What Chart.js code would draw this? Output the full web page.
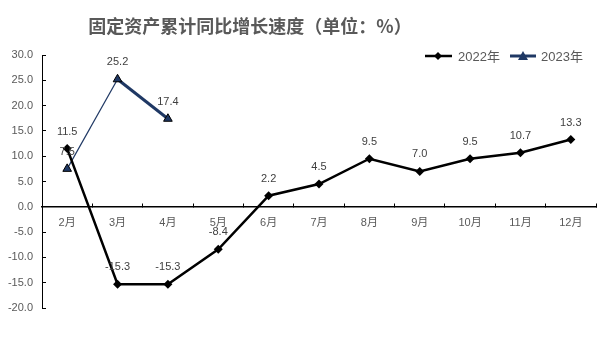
<!DOCTYPE html>
<html><head><meta charset="utf-8">
<script src="https://cdn.jsdelivr.net/npm/chart.js@4"></script>
<style>html,body{margin:0;padding:0;background:#fff}#w{width:611px;height:354px;position:relative}</style>
</head><body><div id="w"><canvas id="c"></canvas></div>
<script>
const categories = ['2月','3月','4月','5月','6月','7月','8月','9月','10月','11月','12月'];
const values2022 = [11.5,-15.3,-15.3,-8.4,2.2,4.5,9.5,7.0,9.5,10.7,13.3];
const values2023 = [7.5,25.2,17.4,null,null,null,null,null,null,null,null];
const seriesNames = ['2022年','2023年'];
const yMin = -20, yMax = 30, yStep = 5;
const titleText = '固定资产累计同比增长速度（单位：%）';

const navy = '#1F3864';
const labelFont = '11px "Liberation Sans", "Noto Sans CJK SC", sans-serif';

const overlay = {
  id: 'overlay',
  afterDatasetsDraw(chart) {
    const ctx = chart.ctx;
    ctx.save();
    // data labels
    ctx.font = labelFont;
    ctx.fillStyle = '#404040';
    ctx.textAlign = 'center';
    ctx.textBaseline = 'middle';
    chart.data.datasets.forEach((ds, i) => {
      const meta = chart.getDatasetMeta(i);
      meta.data.forEach((el, j) => {
        const v = ds.data[j];
        if (v === null || v === undefined) return;
        ctx.fillText(v.toFixed(1), el.x, el.y - 17);
      });
    });
    // title
    ctx.font = 'bold 18px "Noto Sans CJK SC", sans-serif';
    ctx.fillStyle = '#595959';
    ctx.fillText(titleText, 250, 26);
    // legend
    const ly = 56;
    ctx.font = '13px "Liberation Sans", "Noto Sans CJK SC", sans-serif';
    ctx.textAlign = 'left';
    // 2022
    ctx.strokeStyle = '#000'; ctx.lineWidth = 2.5;
    ctx.beginPath(); ctx.moveTo(425, ly); ctx.lineTo(452, ly); ctx.stroke();
    ctx.fillStyle = '#000';
    ctx.beginPath(); ctx.moveTo(438, ly-4); ctx.lineTo(442, ly); ctx.lineTo(438, ly+4); ctx.lineTo(434, ly); ctx.closePath(); ctx.fill();
    ctx.fillStyle = '#595959';
    ctx.fillText(seriesNames[0], 458, ly + 1);
    // 2023
    ctx.strokeStyle = navy; ctx.lineWidth = 3;
    ctx.beginPath(); ctx.moveTo(510, ly); ctx.lineTo(536, ly); ctx.stroke();
    ctx.fillStyle = navy;
    ctx.beginPath(); ctx.moveTo(523, ly-5); ctx.lineTo(528, ly+4); ctx.lineTo(518, ly+4); ctx.closePath(); ctx.fill();
    ctx.fillStyle = '#595959';
    ctx.fillText(seriesNames[1], 541, ly + 1);
    ctx.restore();
  }
};

new Chart(document.getElementById('c'), {
  type: 'line',
  data: {
    labels: categories,
    datasets: [
      {
        label: seriesNames[0],
        data: values2022,
        borderColor: '#000',
        backgroundColor: '#000',
        borderWidth: 2.5,
        pointStyle: 'rectRot',
        pointRadius: 4.5,
        pointBorderWidth: 0,
        tension: 0
      },
      {
        label: seriesNames[1],
        data: values2023,
        borderColor: navy,
        backgroundColor: navy,
        pointBorderColor: '#000',
        pointBorderWidth: 1,
        pointStyle: 'triangle',
        pointRadius: 5,
        tension: 0,
        segment: {
          borderWidth: c => c.p0DataIndex === 0 ? 1.2 : 3
        }
      }
    ]
  },
  options: {
    responsive: true,
    maintainAspectRatio: false,
    animation: false,
    devicePixelRatio: 1,
    layout: { padding: { left: 0, top: 55, right: 15, bottom: 46 } },
    plugins: { legend: { display: false }, title: { display: false }, tooltip: { enabled: false } },
    scales: {
      x: {
        type: 'category',
        position: { y: 0 },
        offset: true,
        grid: { drawOnChartArea: false, drawTicks: true, tickLength: -4, color: '#000', offset: true, lineWidth: 1 },
        border: { color: '#000', width: 1.5 },
        ticks: { padding: 14, color: '#595959', font: { size: 11, family: '"Liberation Sans", "Noto Sans CJK SC", sans-serif' }, maxRotation: 0, autoSkip: false }
      },
      y: {
        min: yMin, max: yMax,
        grid: { drawOnChartArea: false, drawTicks: true, tickLength: -4, color: '#000' },
        border: { color: '#000', width: 1 },
        ticks: { stepSize: yStep, padding: 13, color: '#595959', font: { size: 11, family: '"Liberation Sans", "Noto Sans CJK SC", sans-serif' }, callback: v => Number(v).toFixed(1) },
        afterFit: s => { s.width = 42; }
      }
    }
  },
  plugins: [overlay]
});
</script>
</body></html>
